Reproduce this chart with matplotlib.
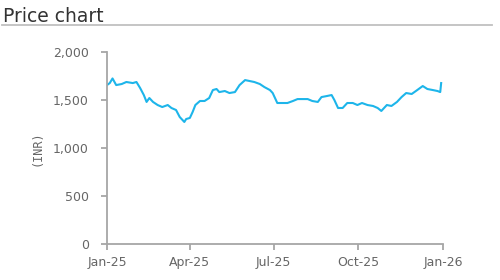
import pandas as pd
import matplotlib
matplotlib.use('Agg')
import matplotlib.pyplot as plt
import matplotlib.dates as mdates
from matplotlib.lines import Line2D

# Price series (INR)
dates = ['2025-01-01', '2025-01-04', '2025-01-07', '2025-01-11', '2025-01-17',
         '2025-01-22', '2025-01-29', '2025-02-02', '2025-02-06', '2025-02-10',
         '2025-02-13', '2025-02-16', '2025-02-20', '2025-02-25', '2025-03-02',
         '2025-03-08', '2025-03-12', '2025-03-17', '2025-03-21', '2025-03-24',
         '2025-03-26', '2025-03-28', '2025-04-01', '2025-04-04', '2025-04-07',
         '2025-04-12', '2025-04-17', '2025-04-22', '2025-04-26', '2025-04-30',
         '2025-05-03', '2025-05-09', '2025-05-14', '2025-05-20', '2025-05-25',
         '2025-05-31', '2025-06-05', '2025-06-10', '2025-06-16', '2025-06-21',
         '2025-06-27', '2025-06-30', '2025-07-05', '2025-07-11', '2025-07-16',
         '2025-07-22', '2025-07-27', '2025-08-01', '2025-08-07', '2025-08-12',
         '2025-08-18', '2025-08-22', '2025-08-28', '2025-09-02', '2025-09-05',
         '2025-09-09', '2025-09-14', '2025-09-19', '2025-09-25', '2025-09-30',
         '2025-10-05', '2025-10-11', '2025-10-17', '2025-10-22', '2025-10-26',
         '2025-11-01', '2025-11-06', '2025-11-12', '2025-11-17', '2025-11-22',
         '2025-11-28', '2025-12-04', '2025-12-10', '2025-12-15', '2025-12-21',
         '2025-12-26', '2025-12-29', '2025-12-30']
prices = [1656, 1677, 1725, 1656, 1667,
          1688, 1677, 1688, 1625, 1552,
          1480, 1521, 1480, 1448, 1427,
          1448, 1417, 1396, 1323, 1292,
          1271, 1302, 1313, 1375, 1448,
          1490, 1490, 1521, 1604, 1615,
          1583, 1594, 1573, 1583, 1656,
          1708, 1698, 1688, 1667, 1635,
          1604, 1573, 1469, 1469, 1469,
          1490, 1510, 1510, 1510, 1490,
          1480, 1531, 1542, 1552, 1500,
          1417, 1417, 1469, 1469, 1448,
          1469, 1448, 1438, 1417, 1386,
          1448, 1438, 1480, 1531, 1573,
          1563, 1604, 1646, 1615, 1604,
          1594, 1583, 1677]

y_ticks = [0, 500, 1000, 1500, 2000]
x_ticks = ['2025-01-01', '2025-04-01', '2025-07-01', '2025-10-01', '2026-01-01']

df = pd.DataFrame({'date': pd.to_datetime(dates), 'price': prices})

fig = plt.figure(figsize=(5, 2.8), dpi=100)
ax = fig.add_axes([0.214, 0.129, 0.672, 0.685])

ax.plot(df['date'], df['price'], color='#1DB5EA', linewidth=1.5)

ax.set_xlim(pd.Timestamp('2025-01-01'), pd.Timestamp('2026-01-01'))
ax.set_ylim(0, 2000)
ax.set_yticks(y_ticks)
ax.set_yticklabels([f'{v:,}' for v in y_ticks])
ax.set_xticks(pd.to_datetime(x_ticks))
ax.xaxis.set_major_formatter(mdates.DateFormatter('%b-%y'))

for s in ['top', 'right']:
    ax.spines[s].set_visible(False)
for s in ['left', 'bottom']:
    ax.spines[s].set_color('#a6a6a6')
    ax.spines[s].set_linewidth(1.3)

ax.tick_params(axis='both', colors='#a6a6a6', labelcolor='#666666',
               labelsize=9, length=4, width=1.3)
ax.tick_params(axis='y', pad=9)
ax.tick_params(axis='x', pad=5)

ax.set_ylabel('(INR)', family='DejaVu Sans Mono', fontsize=8.5,
              color='#666666', labelpad=7)

# header
fig.text(0.006, 0.921, 'Price chart', fontsize=13.5, color='#333333',
         va='baseline', ha='left')
fig.add_artist(Line2D([0.004, 0.984], [0.911, 0.911], transform=fig.transFigure,
                      color='#c0c0c0', linewidth=1.3))

fig.savefig('out.png', dpi=100)
